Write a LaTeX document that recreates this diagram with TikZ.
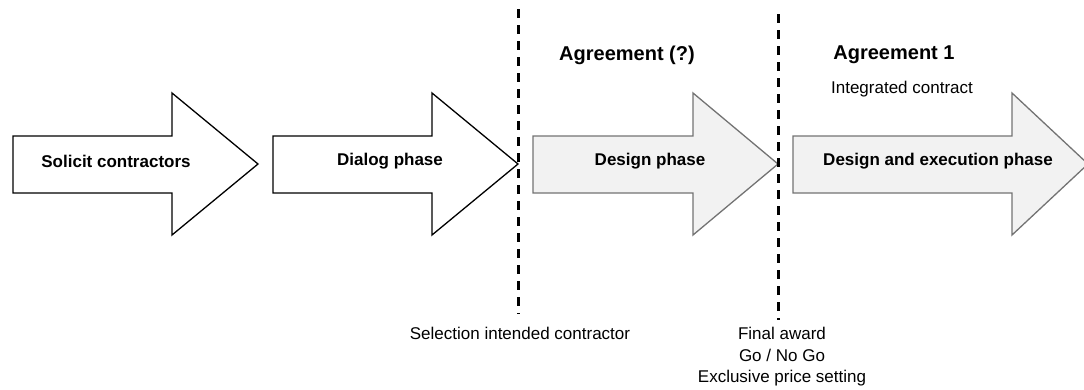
\documentclass[tikz,border=0pt]{standalone}
\usepackage{fontspec}
\setmainfont{Liberation Sans}
\begin{document}
\begin{tikzpicture}[x=1pt,y=-1pt,
  phasearrow/.style={draw=black,fill=white,line width=1.3pt,line join=miter},
  greyarrow/.style={phasearrow,draw=black!55,fill=black!5},
  phaselabel/.style={font=\bfseries\fontsize{17}{20}\selectfont,inner sep=0pt},
  headlabel/.style={font=\bfseries\fontsize{20}{24}\selectfont,inner sep=0pt},
  notelabel/.style={font=\fontsize{17}{21.5}\selectfont,inner sep=0pt,align=center},
  milestone/.style={line width=3pt,dash pattern=on 9pt off 7pt}]
\useasboundingbox (0,0) rectangle (1084,389);
\clip (0,0) rectangle (1084,389);

% phase arrows: body from y=136 to 193, head from y=93 to 235
\draw[phasearrow] (13,136) -- (172,136) -- (172,93) -- (258,164) -- (172,235) -- (172,193) -- (13,193) -- cycle;
\draw[phasearrow] (273,136) -- (432,136) -- (432,93) -- (518,164) -- (432,235) -- (432,193) -- (273,193) -- cycle;
\draw[greyarrow] (533,136) -- (693,136) -- (693,93) -- (778,164) -- (693,235) -- (693,193) -- (533,193) -- cycle;
\draw[greyarrow] (793,136) -- (1012,136) -- (1012,93) -- (1088,164) -- (1012,235) -- (1012,193) -- (793,193) -- cycle;

\node[phaselabel] (solicit) at (116,161) {Solicit contractors};
\node[phaselabel] (dialog) at (390,161) {Dialog phase};
\node[phaselabel] (design) at (650,161) {Design phase};
\node[phaselabel] (execution) at (938,161) {Design and execution phase};

% milestones between phases
\coordinate (m1top) at (518.5,9);
\coordinate (m1bot) at (518.5,314);
\coordinate (m2top) at (778.5,14);
\coordinate (m2bot) at (778.5,320);
\draw[milestone] (m1top) -- (m1bot);
\draw[milestone] (m2top) -- (m2bot);

\node[headlabel] (agr0) at (627,55) {Agreement (?)};
\node[headlabel] (agr1) at (894,55) {Agreement 1};
\node[notelabel] (integrated) at (902,89) {Integrated contract};

\node[notelabel] (selection) at (520,333) {Selection intended contractor};
\node[notelabel,anchor=north] (award) at (782,327) {Final award\\Go / No Go\\Exclusive price setting};
\end{tikzpicture}
\end{document}
